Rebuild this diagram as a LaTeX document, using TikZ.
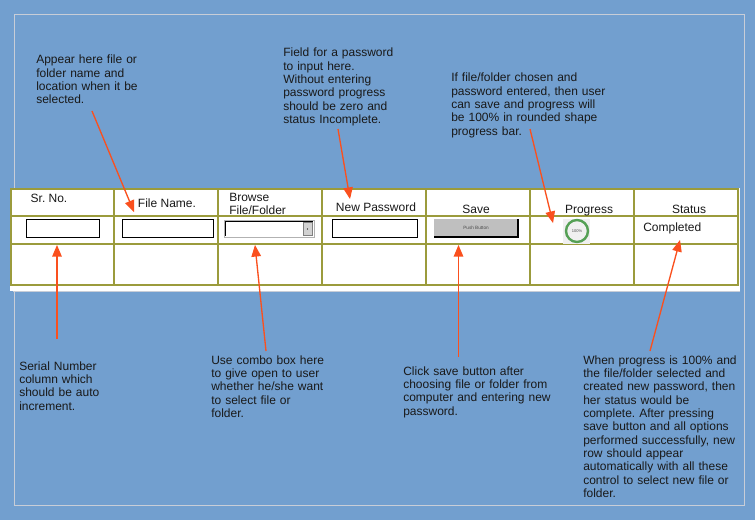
\documentclass[tikz,border=0pt]{standalone}
\usepackage{fontspec}
\setmainfont{Liberation Sans}
\usepackage{tikz}
\usetikzlibrary{arrows}
\definecolor{skyback}{RGB}{114,159,207}
\definecolor{frameline}{RGB}{200,205,215}
\definecolor{gridolive}{RGB}{155,155,60}
\definecolor{pointred}{RGB}{250,80,30}
\definecolor{inktext}{RGB}{25,25,25}
\definecolor{ringgreen}{RGB}{85,160,85}
\frenchspacing

\begin{document}
\begin{tikzpicture}[x=0.75pt, y=-0.75pt, font=\fontsize{9}{10}\selectfont,
  note/.style={anchor=base west, inner sep=0, text width=160pt, align=left, text=inktext},
  head/.style={anchor=base, inner sep=0, text=inktext},
  pointer/.style={draw=pointred, line width=1pt, ->, >=triangle 45},
  cellline/.style={draw=gridolive, line width=0.9pt},
  txtbox/.style={draw=black, fill=white, line width=0.75pt}]
		\useasboundingbox (0, 0) rectangle (755, 520);
		\fill[skyback] (0, 0) rectangle (755, 520);
		\draw[frameline, line width=0.75pt] (14, 15) rectangle (744, 505);

		% the form
		\fill[white] (10, 188) rectangle (740, 291);
		\draw[frameline, line width=0.75pt] (13, 291) -- (740, 291);
		\draw[cellline] (11, 189) rectangle (738, 285);
		\draw[cellline] (11, 216) -- (738, 216);
		\draw[cellline] (11, 244) -- (738, 244);
		\draw[cellline] (114, 189) -- (114, 285);
		\draw[cellline] (218, 189) -- (218, 285);
		\draw[cellline] (322, 189) -- (322, 285);
		\draw[cellline] (426, 189) -- (426, 285);
		\draw[cellline] (530, 189) -- (530, 285);
		\draw[cellline] (634, 189) -- (634, 285);

		\node[head] (hSr) at (49, 202) {Sr. No.};
		\node[head] (hName) at (167, 207) {File Name.};
		\node[note] (hBrowse) at (229, 201) {Browse\\File/Folder};
		\node[head] (hPass) at (376, 211) {New Password};
		\node[head] (hSave) at (476, 213) {Save};
		\node[head] (hProg) at (589, 213) {Progress};
		\node[head] (hStat) at (689, 213) {Status};

		% controls
		\draw[txtbox] (26, 219) rectangle (99, 237);
		\draw[txtbox] (122, 219) rectangle (213, 237);
		\draw[draw=gray!60, fill=white, line width=0.75pt] (224, 220) rectangle (314, 237);
		\draw[black, line width=0.75pt] (225, 236) -- (225, 221) -- (313, 221);
		\draw[draw=gray, fill=gray!35, line width=0.5pt] (303, 222) rectangle (312, 235);
		\fill[black] (307.5, 229) circle (0.6);
		\draw[txtbox] (332, 219) rectangle (417, 237);
		\fill[gray!50] (434, 219) rectangle (518, 237);
		\draw[black, line width=1.2pt] (518, 219) -- (518, 237) -- (434, 237);
		\node[inner sep=0, font=\fontsize{3.5}{4}\selectfont, text=black!70] (pushBtn) at (476, 228) {Push Button};
		\fill[gray!12] (563, 219) rectangle (590, 244);
		\draw[ringgreen, line width=1.8pt] (577, 231) circle (11);
		\node[inner sep=0, font=\fontsize{3}{3}\selectfont, text=black!70] (ringPct) at (577, 231) {100\%};
		\node[anchor=base west, inner sep=0, text=inktext] (doneTxt) at (643, 231) {Completed};

		% notes above
		\node[note] (noteName) at (36, 64) {Appear here file or\\folder name and\\location when it be\\selected.};
		\node[note] (notePass) at (283, 57) {Field for a password\\to input here.\\Without entering\\password progress\\should be zero and\\status Incomplete.};
		\node[note] (noteProg) at (451, 82) {If file/folder chosen and\\password entered, then user\\can save and progress will\\be 100\% in rounded shape\\progress bar.};

		% notes below
		\node[note] (noteSr) at (19, 370) {Serial Number\\column which\\should be auto\\increment.};
		\node[note] (noteCombo) at (211, 364) {Use combo box here\\to give open to user\\whether he/she want\\to select file or\\folder.};
		\node[note] (noteSave) at (403, 375) {Click save button after\\choosing file or folder from\\computer and entering new\\password.};
		\node[note] (noteStat) at (583, 364) {When progress is 100\% and\\the file/folder selected and\\created new password, then\\her status would be\\complete. After pressing\\save button and all options\\performed successfully, new\\row should appear\\automatically with all these\\control to select new file or\\folder.};

		\coordinate (nameTail) at (92, 111);
		\coordinate (nameTip) at (134, 212);
		\coordinate (passTail) at (338, 129);
		\coordinate (passTip) at (350, 199);
		\coordinate (progTail) at (530, 129);
		\coordinate (progTip) at (553, 223);
		\coordinate (srTail) at (57, 339);
		\coordinate (srTip) at (57, 245);
		\coordinate (comboTail) at (266, 351);
		\coordinate (comboTip) at (255, 245);
		\coordinate (saveTail) at (458.5, 357);
		\coordinate (saveTip) at (458.5, 245);
		\coordinate (statTail) at (650, 351);
		\coordinate (statTip) at (680, 240);

		\draw[pointer] (nameTail) -- (nameTip);
		\draw[pointer] (passTail) -- (passTip);
		\draw[pointer] (progTail) -- (progTip);
		\draw[pointer] (srTail) -- (srTip);
		\draw[pointer] (comboTail) -- (comboTip);
		\draw[pointer] (saveTail) -- (saveTip);
		\draw[pointer] (statTail) -- (statTip);

\end{tikzpicture}
\end{document}
